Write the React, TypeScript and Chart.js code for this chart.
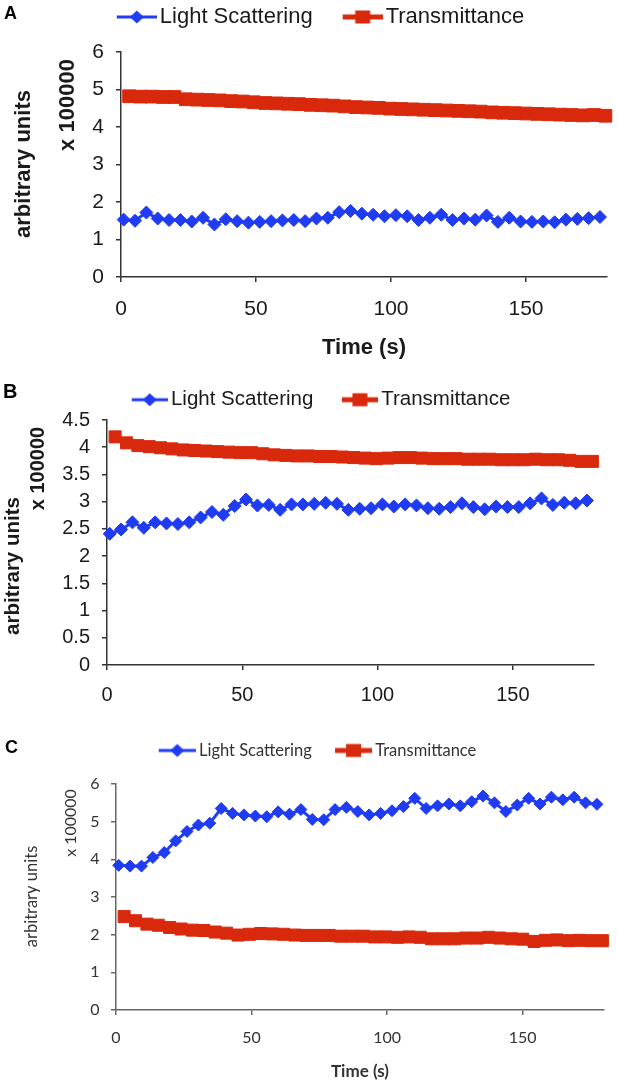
import { useEffect, useRef } from "react";
import Chart from "chart.js/auto";

const PAGE_W = 617;
const PAGE_H = 1084;

const BLUE = "#1f3cf2";
const RED = "#d9290c";
const SANS = '"Liberation Sans", Arial, Helvetica, sans-serif';
const CALIBRI = 'Lato, "Open Sans", sans-serif';

// sampling times (s) of the two series
const scatterTimes = [
  1, 5.2, 9.4, 13.6, 17.8, 22, 26.2, 30.4, 34.6, 38.8, 43, 47.2, 51.4, 55.6,
  59.8, 64, 68.2, 72.4, 76.6, 80.8, 85, 89.2, 93.4, 97.6, 101.8, 106, 110.2,
  114.4, 118.6, 122.8, 127, 131.2, 135.4, 139.6, 143.8, 148, 152.2, 156.4,
  160.6, 164.8, 169, 173.2, 177.4,
];
const transTimes = [
  3, 7.2, 11.4, 15.6, 19.8, 24, 28.2, 32.4, 36.6, 40.8, 45, 49.2, 53.4, 57.6,
  61.8, 66, 70.2, 74.4, 78.6, 82.8, 87, 91.2, 95.4, 99.6, 103.8, 108, 112.2,
  116.4, 120.6, 124.8, 129, 133.2, 137.4, 141.6, 145.8, 150, 154.2, 158.4,
  162.6, 166.8, 171, 175.2, 179.4,
];

const xTickValues = [0, 50, 100, 150];
const yTicksA = [0, 1, 2, 3, 4, 5, 6];
const yTicksB = [0, 0.5, 1, 1.5, 2, 2.5, 3, 3.5, 4, 4.5];
const yTicksC = [0, 1, 2, 3, 4, 5, 6];

// panel A (x 100000 arbitrary units)
const scatterA = [
  1.53, 1.5, 1.72, 1.56, 1.52, 1.52, 1.48, 1.58, 1.4, 1.54, 1.49, 1.45, 1.47,
  1.49, 1.51, 1.52, 1.49, 1.56, 1.58, 1.73, 1.76, 1.69, 1.66, 1.62, 1.65, 1.62,
  1.52, 1.58, 1.66, 1.52, 1.56, 1.53, 1.64, 1.47, 1.58, 1.48, 1.47, 1.48, 1.46,
  1.53, 1.55, 1.57, 1.6,
];
const transA = [
  4.82, 4.81, 4.81, 4.8, 4.8, 4.74, 4.73, 4.72, 4.71, 4.69, 4.68, 4.66, 4.64,
  4.63, 4.62, 4.61, 4.59, 4.58, 4.57, 4.55, 4.53, 4.52, 4.51, 4.49, 4.48, 4.47,
  4.46, 4.45, 4.44, 4.43, 4.42, 4.41, 4.39, 4.38, 4.37, 4.36, 4.35, 4.34, 4.33,
  4.32, 4.31, 4.32, 4.3,
];

// panel B
const scatterB = [
  2.41, 2.49, 2.62, 2.52, 2.62, 2.6, 2.59, 2.62, 2.71, 2.81, 2.76, 2.92, 3.04,
  2.93, 2.94, 2.85, 2.95, 2.95, 2.96, 2.98, 2.96, 2.85, 2.87, 2.88, 2.95, 2.91,
  2.95, 2.93, 2.88, 2.87, 2.9, 2.97, 2.9, 2.86, 2.91, 2.9, 2.9, 2.97, 3.06,
  2.94, 2.98, 2.97, 3.02,
];
const transB = [
  4.19, 4.08, 4.03, 4.01, 3.99, 3.97, 3.95, 3.94, 3.93, 3.92, 3.91, 3.9, 3.9,
  3.88, 3.86, 3.85, 3.84, 3.84, 3.83, 3.83, 3.82, 3.81, 3.8, 3.79, 3.8, 3.81,
  3.81, 3.8, 3.79, 3.79, 3.79, 3.78, 3.78, 3.78, 3.77, 3.77, 3.77, 3.78, 3.77,
  3.77, 3.76, 3.74, 3.74,
];

// panel C
const scatterC = [
  3.84, 3.82, 3.82, 4.05, 4.18, 4.49, 4.74, 4.91, 4.96, 5.35, 5.22, 5.18, 5.15,
  5.13, 5.26, 5.2, 5.32, 5.06, 5.05, 5.32, 5.38, 5.27, 5.18, 5.22, 5.29, 5.4,
  5.62, 5.35, 5.42, 5.47, 5.42, 5.53, 5.68, 5.5, 5.27, 5.44, 5.62, 5.47, 5.65,
  5.58, 5.65, 5.5, 5.46,
];
const transC = [
  2.48, 2.37, 2.28, 2.25, 2.19, 2.15, 2.12, 2.11, 2.07, 2.04, 1.99, 2.01, 2.03,
  2.02, 2.01, 1.99, 1.98, 1.98, 1.98, 1.96, 1.96, 1.96, 1.94, 1.94, 1.93, 1.94,
  1.93, 1.89, 1.89, 1.89, 1.91, 1.91, 1.93, 1.91, 1.89, 1.88, 1.82, 1.85, 1.86,
  1.84, 1.85, 1.84, 1.84,
];

interface SideText {
  text: string;
  x: number;
  y: number;
  font: string;
}

interface PanelSpec {
  letter: string;
  letterSize: number;
  letterLeft: number;
  letterTop: number;
  top: number;
  height: number;
  left: number;
  right: number;
  plotTop: number;
  plotBottom: number;
  scatter: number[];
  trans: number[];
  yTicks: number[];
  family: string;
  textColor: string;
  axisColor: string;
  tickSize: number;
  yPad: number;
  xPad: number;
  title?: { size: number; bottom: number };
  legend: {
    size: number;
    top: number;
    pad: number;
    boxW: number;
    imgW: number;
    iconW: number;
  };
  side: SideText[];
  diamond: number;
  square: number;
}

const panels: PanelSpec[] = [
  {
    letter: "A",
    letterSize: 18,
    letterLeft: 4,
    letterTop: 4,
    top: 0,
    height: 365,
    left: 121,
    right: 613,
    plotTop: 52,
    plotBottom: 277,
    scatter: scatterA,
    trans: transA,
    yTicks: yTicksA,
    family: SANS,
    textColor: "#1a1a1a",
    axisColor: "#333",
    tickSize: 21,
    yPad: 12,
    xPad: 15,
    title: { size: 22, bottom: 4 },
    legend: { size: 22, top: 0, pad: 6, boxW: 56, imgW: 72, iconW: 40 },
    side: [
      { text: "arbitrary units", x: 24, y: 164, font: `bold 22px ${SANS}` },
      { text: "x 100000", x: 68, y: 105, font: `bold 22px ${SANS}` },
    ],
    diamond: 6.5,
    square: 9,
  },
  {
    letter: "B",
    letterSize: 20,
    letterLeft: 3,
    letterTop: 381,
    top: 365,
    height: 345,
    left: 107,
    right: 594,
    plotTop: 55,
    plotBottom: 300,
    scatter: scatterB,
    trans: transB,
    yTicks: yTicksB,
    family: SANS,
    textColor: "#1a1a1a",
    axisColor: "#333",
    tickSize: 20,
    yPad: 12,
    xPad: 13,
    legend: { size: 20.5, top: 21, pad: 3.5, boxW: 54, imgW: 68, iconW: 36 },
    side: [
      { text: "arbitrary units", x: 13, y: 201, font: `bold 20.5px ${SANS}` },
      { text: "x 100000", x: 38, y: 103.5, font: `bold 20px ${SANS}` },
    ],
    diamond: 6.5,
    square: 8.5,
  },
  {
    letter: "C",
    letterSize: 18,
    letterLeft: 5,
    letterTop: 738,
    top: 710,
    height: 374,
    left: 116,
    right: 604,
    plotTop: 74,
    plotBottom: 300,
    scatter: scatterC,
    trans: transC,
    yTicks: yTicksC,
    family: CALIBRI,
    textColor: "#333",
    axisColor: "#666",
    tickSize: 16,
    yPad: 11.5,
    xPad: 13,
    title: { size: 17, bottom: 2 },
    legend: { size: 16.5, top: 27, pad: 5.25, boxW: 50, imgW: 60, iconW: 37 },
    side: [
      { text: "arbitrary units", x: 32, y: 186.5, font: `16.5px ${CALIBRI}` },
      { text: "x 100000", x: 70.5, y: 113, font: `16px ${CALIBRI}` },
    ],
    diamond: 6,
    square: 8.5,
  },
];

// Excel-style legend key: a line with the marker in its middle
function legendIcon(
  kind: "diamond" | "square",
  color: string,
  imgW: number,
  iconW: number,
) {
  const h = 16;
  const c = document.createElement("canvas");
  c.width = imgW;
  c.height = h;
  const g = c.getContext("2d")!;
  const x0 = imgW - iconW;
  const cx = imgW - iconW / 2;
  const cy = h / 2;
  g.strokeStyle = color;
  g.fillStyle = color;
  g.lineWidth = kind === "diamond" ? 3 : 5;
  g.beginPath();
  g.moveTo(x0, cy);
  g.lineTo(imgW, cy);
  g.stroke();
  g.beginPath();
  if (kind === "diamond") {
    g.moveTo(cx - 7, cy);
    g.lineTo(cx, cy - 6.5);
    g.lineTo(cx + 7, cy);
    g.lineTo(cx, cy + 6.5);
    g.closePath();
  } else {
    g.rect(cx - 7.5, cy - 6.5, 15, 13);
  }
  g.fill();
  return c;
}

function Panel({ spec }: { spec: PanelSpec }) {
  const canvasRef = useRef<HTMLCanvasElement>(null);

  useEffect(() => {
    const canvas = canvasRef.current;
    if (!canvas) return;

    const lg = spec.legend;
    const icons = [
      legendIcon("diamond", BLUE, lg.imgW, lg.iconW),
      legendIcon("square", RED, lg.imgW, lg.iconW),
    ];
    // room left between the legend and the plot
    const gapTop = Math.max(0, spec.plotTop - (lg.top + lg.pad + lg.size + 10));
    const axisLine = { display: true, color: spec.axisColor, width: 1.5 };
    const tickMarks = {
      display: true,
      drawOnChartArea: false,
      drawTicks: true,
      tickLength: 5,
      color: spec.axisColor,
      lineWidth: 1.5,
    };
    const tickFont = { family: spec.family, size: spec.tickSize };
    const hidden = { display: false };

    // the two rotated y labels sit at different heights, so draw them here
    const sideTitles = {
      id: "sideTitles",
      afterDraw(chart: Chart) {
        const { ctx } = chart;
        spec.side.forEach((t) => {
          ctx.save();
          ctx.translate(t.x, t.y);
          ctx.rotate(-Math.PI / 2);
          ctx.font = t.font;
          ctx.fillStyle = spec.textColor;
          ctx.textAlign = "center";
          ctx.textBaseline = "middle";
          ctx.fillText(t.text, 0, 0);
          ctx.restore();
        });
      },
    };

    const chart = new Chart(canvas, {
      type: "line",
      data: {
        datasets: [
          {
            label: "Light Scattering",
            data: scatterTimes.map((t, i) => ({ x: t, y: spec.scatter[i] })),
            xAxisID: "x",
            yAxisID: "y",
            borderColor: BLUE,
            backgroundColor: BLUE,
            borderWidth: 3,
            pointStyle: "rectRot",
            pointRadius: spec.diamond,
            pointBorderWidth: 1,
            clip: false,
          },
          {
            label: "Transmittance",
            data: transTimes.map((t, i) => ({ x: t, y: spec.trans[i] })),
            xAxisID: "x",
            yAxisID: "y",
            borderColor: RED,
            backgroundColor: RED,
            borderWidth: 3,
            pointStyle: "rect",
            pointRadius: spec.square,
            pointBorderWidth: 1,
            clip: false,
          },
        ],
      },
      options: {
        responsive: false,
        animation: false,
        layout: { padding: { top: lg.top, left: 0, right: 0, bottom: 0 } },
        plugins: {
          legend: {
            position: "top",
            labels: {
              usePointStyle: true,
              pointStyleWidth: lg.boxW,
              padding: lg.pad,
              color: spec.textColor,
              font: { family: spec.family, size: lg.size },
              generateLabels: (c: Chart) =>
                Chart.defaults.plugins.legend.labels
                  .generateLabels(c)
                  .map((item, i) => ({ ...item, pointStyle: icons[i] })),
            },
          },
          tooltip: { enabled: false },
        },
        scales: {
          x: {
            type: "linear",
            min: 0,
            max: 180,
            border: axisLine,
            grid: tickMarks,
            afterBuildTicks: (s) => {
              s.ticks = xTickValues.map((v) => ({ value: v }));
            },
            ticks: {
              font: tickFont,
              color: spec.textColor,
              padding: spec.xPad,
              maxRotation: 0,
              callback: (v) => String(v),
            },
            title: spec.title
              ? {
                  display: true,
                  text: "Time (s)",
                  color: spec.textColor,
                  font: { family: spec.family, size: spec.title.size, weight: "bold" },
                  padding: { top: 0, bottom: spec.title.bottom },
                }
              : { display: false },
            afterFit: (s) => {
              s.height = spec.height - spec.plotBottom;
            },
          },
          y: {
            type: "linear",
            min: 0,
            max: spec.yTicks[spec.yTicks.length - 1],
            border: axisLine,
            grid: tickMarks,
            afterBuildTicks: (s) => {
              s.ticks = spec.yTicks.map((v) => ({ value: v }));
            },
            ticks: {
              font: tickFont,
              color: spec.textColor,
              padding: spec.yPad,
              callback: (v) => String(v),
            },
            afterFit: (s) => {
              s.width = spec.left;
            },
          },
          gapTop: {
            axis: "x",
            type: "linear",
            position: "top",
            grid: hidden,
            border: hidden,
            ticks: hidden,
            afterFit: (s) => {
              s.height = gapTop;
            },
          },
          gapRight: {
            axis: "y",
            type: "linear",
            position: "right",
            grid: hidden,
            border: hidden,
            ticks: hidden,
            afterFit: (s) => {
              s.width = PAGE_W - spec.right;
            },
          },
        },
      },
      plugins: [sideTitles],
    });

    return () => {
      chart.destroy();
    };
  }, [spec]);

  return (
    <canvas
      ref={canvasRef}
      width={PAGE_W}
      height={spec.height}
      style={{ position: "absolute", left: 0, top: spec.top }}
    />
  );
}

export default function App() {
  return (
    <div
      style={{
        position: "absolute",
        left: 0,
        top: 0,
        width: PAGE_W,
        height: PAGE_H,
        overflow: "hidden",
        background: "#fff",
      }}
    >
      {panels.map((p) => (
        <div key={p.letter}>
          <Panel spec={p} />
          <div
            style={{
              position: "absolute",
              left: p.letterLeft,
              top: p.letterTop,
              fontFamily: SANS,
              fontWeight: "bold",
              fontSize: p.letterSize,
              lineHeight: `${p.letterSize}px`,
              color: "#000",
            }}
          >
            {p.letter}
          </div>
        </div>
      ))}
    </div>
  );
}
